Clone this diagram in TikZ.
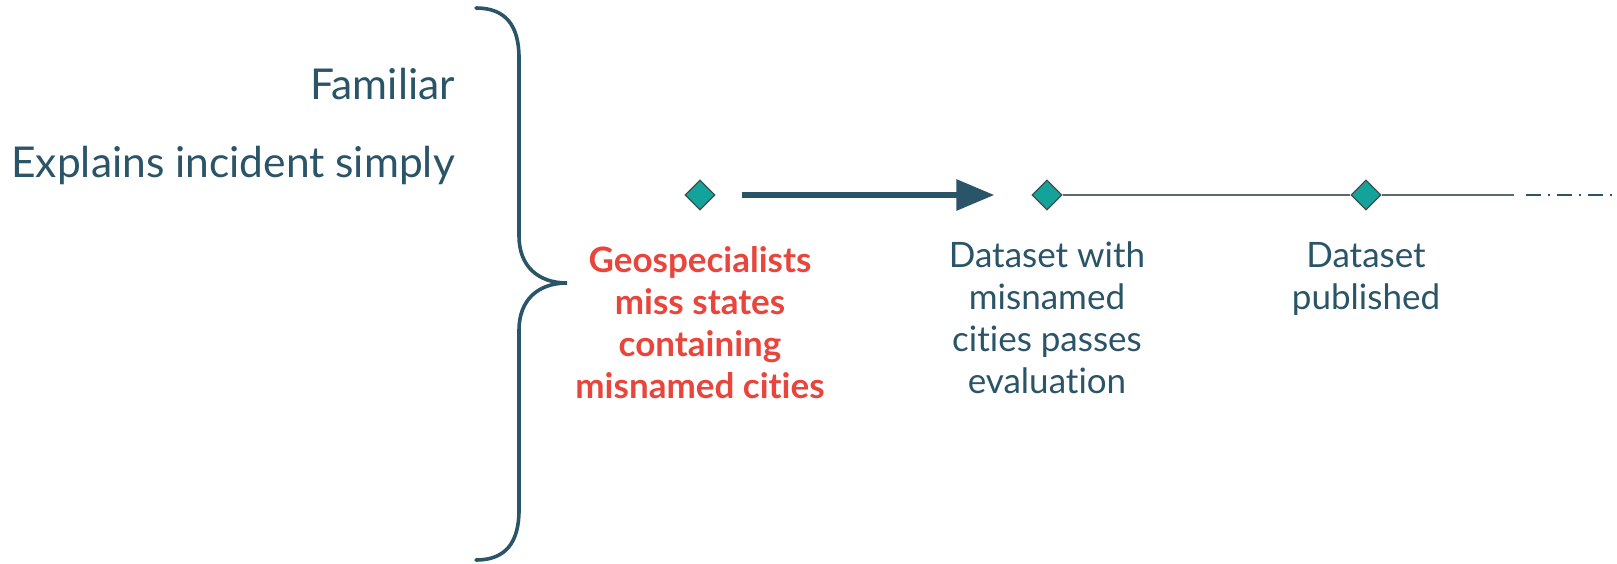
\documentclass[tikz,border=0pt]{standalone}
\usepackage{fontspec}
\setmainfont{Lato}[Ligatures={NoCommon,NoRare,NoContextual}]
\usetikzlibrary{shapes.geometric,arrows.meta}
\definecolor{ink}{HTML}{2A5468}
\definecolor{alert}{HTML}{E8453C}
\definecolor{teal}{HTML}{14A39A}
\definecolor{edge}{HTML}{3F4F4F}
\definecolor{thin}{HTML}{5C6B68}
\tikzset{
  gem/.style={diamond,draw=edge,line width=1.3pt,fill=teal,inner sep=0pt,minimum width=30pt,minimum height=30pt},
  sidetext/.style={anchor=base east,inner sep=0pt,text=ink,font=\fontsize{42.5}{50}\selectfont},
  evtext/.style={anchor=north,inner sep=0pt,align=center,text=ink,font=\fontsize{35}{42}\selectfont},
  redtext/.style={evtext,text=alert,font=\fontsize{35}{42}\selectfont\bfseries},
  bigarrow/.style={draw=ink,line width=6pt,-{Triangle[length=38pt,width=30pt]}},
  thinline/.style={draw=thin,line width=1.3pt},
  brace/.style={draw=ink,line width=3.6pt,line cap=round}
}
\begin{document}
\begin{tikzpicture}[x=1pt,y=-1pt]
\useasboundingbox (0,0) rectangle (1617,563);
\node[sidetext] (fam) at (455,99) {Familiar};
\node[sidetext] (expl) at (455,177) {Explains incident simply};
\draw[brace] (476,8) .. controls (506,8) and (519,26) .. (519,58) -- (519,236)
  .. controls (519,266) and (538,283) .. (567,283)
  .. controls (538,283) and (519,300) .. (519,330) -- (519,510)
  .. controls (519,542) and (506,560) .. (476,560);
\node[gem] (d1) at (700,195) {};
\node[gem] (d2) at (1047,195) {};
\node[gem] (d3) at (1366,195) {};
\coordinate (lend) at (1514,195);
\coordinate (dstart) at (1526,195);
\coordinate (dend) at (1612,195);
\draw[thinline] (d2) -- (d3);
\draw[thinline] (d3) -- (lend);
\draw[draw=ink,line width=1.6pt,dash pattern=on 15pt off 7pt on 2pt off 7pt] (dstart) -- (dend);
\draw[bigarrow,shorten <=26pt,shorten >=37pt] (d1) -- (d2);
\node[redtext] (l1) at (700,246) {Geospecialists\\miss states\\containing\\misnamed cities};
\node[evtext] (l2) at (1047,242) {Dataset with\\misnamed\\cities passes\\evaluation};
\node[evtext] (l3) at (1366,242) {Dataset\\published};
\end{tikzpicture}
\end{document}
